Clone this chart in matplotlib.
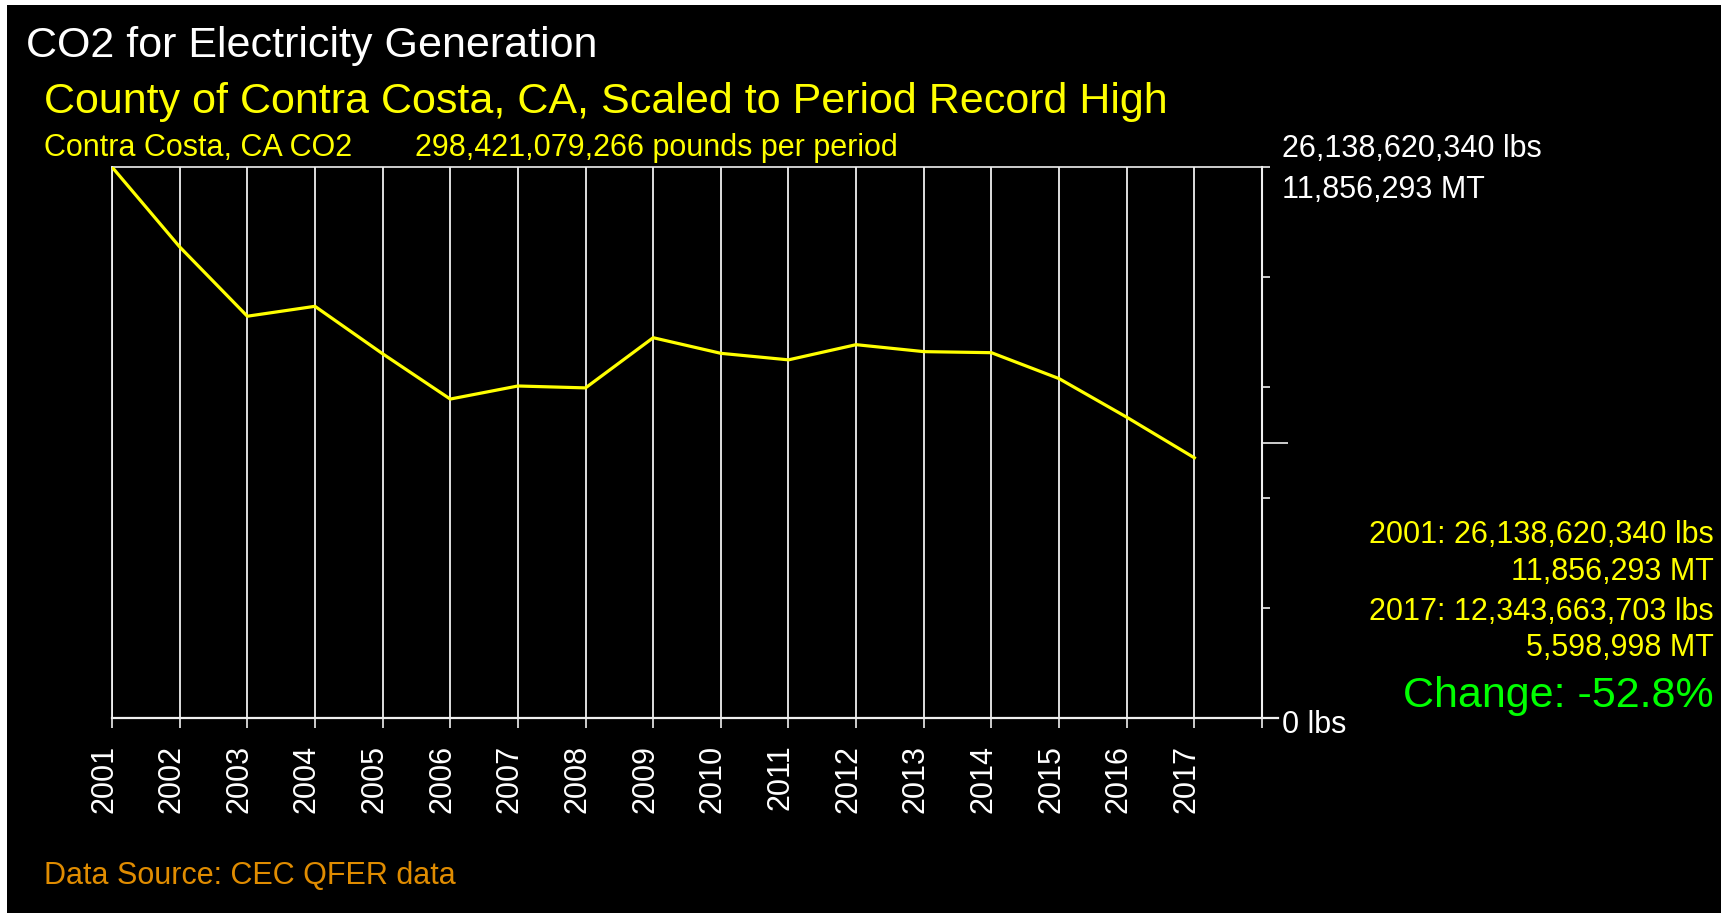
import matplotlib
matplotlib.use("Agg")
import matplotlib.pyplot as plt
from matplotlib.patches import Rectangle

plt.rcParams['font.family'] = ['Liberation Sans', 'DejaVu Sans']

# CO2 from electricity generation, billions of pounds per year
YEARS = list(range(2001, 2018))
CO2_BLBS = [26.13862034, 22.35, 19.06, 19.53, 17.28, 15.13, 15.75, 15.66, 18.04,
            17.30, 16.99, 17.71, 17.38, 17.33, 16.10, 14.27, 12.343663703]
TOTAL_LBS = 298421079266
LBS_PER_MT = 2204.62

TITLE = "CO2 for Electricity Generation"
SUBTITLE = "County of Contra Costa, CA, Scaled to Period Record High"
SERIES_NAME = "Contra Costa, CA CO2"
SOURCE = "Data Source: CEC QFER data"

YELLOW = '#FFFF00'
GREEN = '#00FF00'
ORANGE = '#E08C00'
GRID = '#F0F0F0'

W, H = 1721, 913


def fx(px):
    return px / W


def fy(py):
    return 1 - py / H


first_lbs = round(CO2_BLBS[0] * 1e9)
last_lbs = round(CO2_BLBS[-1] * 1e9)
peak = max(CO2_BLBS)
change = (last_lbs - first_lbs) / first_lbs * 100

fig = plt.figure(figsize=(W / 100, H / 100), dpi=100, facecolor='black')
ax = fig.add_axes([fx(112), fy(718), fx(1262) - fx(112), fy(167) - fy(718)])
ax.set_facecolor('black')

ax.plot(YEARS, CO2_BLBS, color=YELLOW, lw=2.3, zorder=3)

ax.set_xlim(YEARS[0], YEARS[-1] + 1)
ax.set_ylim(0, peak)
xticks = YEARS + [YEARS[-1] + 1]
ax.set_xticks(xticks)
ax.set_xticklabels([str(y) for y in YEARS] + [''])
ax.grid(axis='x', color=GRID, lw=1.3)

ax.tick_params(axis='x', direction='out', length=7.2, width=1.2, color=GRID,
               labelcolor='white', labelsize=22, pad=12)
for lbl in ax.get_xticklabels():
    lbl.set_rotation(90)
    lbl.set_rotation_mode('anchor')
    lbl.set_ha('right')
    lbl.set_va('baseline')

ax.yaxis.tick_right()
ax.set_yticks([peak * f for f in (0, 0.2, 0.4, 0.6, 0.8, 1.0)])
ax.set_yticklabels([])
ax.set_yticks([peak * 0.5], minor=True)
ax.tick_params(axis='y', which='major', direction='out', length=6, width=1.2, color=GRID)
ax.tick_params(axis='y', which='minor', direction='out', length=18.5, width=1.2, color=GRID)

for side, lw in [('top', 1.2), ('bottom', 1.6), ('left', 1.3), ('right', 1.5)]:
    ax.spines[side].set_color(GRID)
    ax.spines[side].set_linewidth(lw)
# zero line runs a little past the right axis, like a longer tick
years_per_px = (ax.get_xlim()[1] - ax.get_xlim()[0]) / 1150
ax.spines['bottom'].set_bounds(YEARS[0], YEARS[-1] + 1 + 16 * years_per_px)

# headings
fig.text(fx(26), fy(57), TITLE, color='white', fontsize=31, va='baseline')
fig.text(fx(44), fy(113), SUBTITLE, color=YELLOW, fontsize=31, va='baseline')
fig.text(fx(44), fy(156), SERIES_NAME, color=YELLOW, fontsize=22, va='baseline')
fig.text(fx(415), fy(156), f"{TOTAL_LBS:,} pounds per period", color=YELLOW,
         fontsize=22, va='baseline')

# right axis scale labels
fig.text(fx(1282), fy(157), f"{first_lbs:,} lbs", color='white', fontsize=22, va='baseline')
fig.text(fx(1282), fy(198), f"{round(first_lbs / LBS_PER_MT):,} MT", color='white',
         fontsize=22, va='baseline')
fig.text(fx(1282), fy(733), "0 lbs", color='white', fontsize=22, va='baseline')

# summary block
summary = [
    (543, f"{YEARS[0]}: {first_lbs:,} lbs"),
    (580, f"{round(first_lbs / LBS_PER_MT):,} MT"),
    (620, f"{YEARS[-1]}: {last_lbs:,} lbs"),
    (656, f"{round(last_lbs / LBS_PER_MT):,} MT"),
]
for ypx, s in summary:
    fig.text(fx(1714), fy(ypx), s, color=YELLOW, fontsize=22, ha='right', va='baseline')
fig.text(fx(1714), fy(707), f"Change: {change:.1f}%", color=GREEN, fontsize=31,
         ha='right', va='baseline')

fig.text(fx(44), fy(884), SOURCE, color=ORANGE, fontsize=22, va='baseline')

# thin white frame on top and left edge
fig.add_artist(Rectangle((0, fy(5)), 1, 5 / H, transform=fig.transFigure,
                         color='white', lw=0))
fig.add_artist(Rectangle((0, 0), fx(7), 1, transform=fig.transFigure,
                         color='white', lw=0))

fig.savefig('out.png', dpi=100, facecolor='black')
